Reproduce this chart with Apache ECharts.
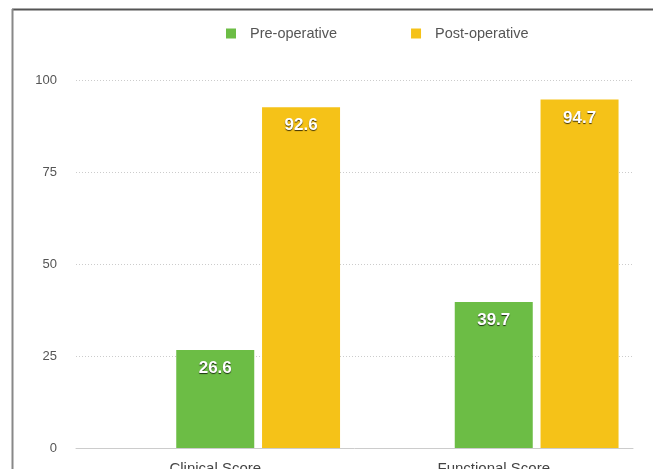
<!DOCTYPE html>
<html>
<head>
<meta charset="utf-8">
<script src="https://cdn.jsdelivr.net/npm/echarts@6/dist/echarts.min.js"></script>
<style>html,body{margin:0;padding:0;background:#fff}#c{width:653px;height:469px}</style>
</head>
<body>
<div id="c"></div>
<script>
var categories = ['Clinical Score', 'Functional Score'];
var seriesNames = ['Pre-operative', 'Post-operative'];
var preOperative = [26.6, 39.7];
var postOperative = [92.6, 94.7];
var yTicks = [0, 25, 50, 75, 100];

var chart = echarts.init(document.getElementById('c'), null, {renderer: 'canvas'});
var labelStyle = {
  show: true, position: 'insideTop', distance: 10,
  color: '#fff', fontFamily: 'Liberation Sans, Arial, sans-serif', fontWeight: 'bold', fontSize: 17,
  textShadowColor: 'rgba(0,0,0,0.75)', textShadowBlur: 1, textShadowOffsetX: 0, textShadowOffsetY: 1,
  formatter: function (p) { return p.value.toFixed(1); }
};
chart.setOption({
  animation: false,
  backgroundColor: '#fff',
  textStyle: {fontFamily: 'Liberation Sans, Arial, sans-serif'},
  graphic: [
    {type: 'line', shape: {x1: 12, y1: 9.5, x2: 653, y2: 9.5}, style: {stroke: '#555', lineWidth: 2}},
    {type: 'line', shape: {x1: 12.5, y1: 9, x2: 12.5, y2: 469}, style: {stroke: '#888', lineWidth: 2}}
  ],
  legend: {
    data: seriesNames, top: 21, left: 221,
    itemWidth: 10, itemHeight: 10, itemGap: 74, icon: 'rect',
    textStyle: {color: '#555', fontSize: 14.5, padding: [0, 0, 0, 9]}
  },
  grid: {left: 76, right: 20, top: 80, bottom: 21, containLabel: false, outerBoundsMode: 'none'},
  xAxis: {
    type: 'category', data: categories,
    axisLine: {lineStyle: {color: '#ccc', width: 1}},
    axisTick: {show: false},
    axisLabel: {color: '#444', fontSize: 15, margin: 13}
  },
  yAxis: {
    type: 'value', min: yTicks[0], max: yTicks[yTicks.length - 1], interval: 25,
    axisLine: {show: false}, axisTick: {show: false},
    axisLabel: {color: '#555', fontSize: 13, margin: 19},
    splitLine: {lineStyle: {color: '#ccc', type: [1, 2], width: 1}}
  },
  series: [
    {name: 'hidden', type: 'bar', data: [null, null], barWidth: 78, barGap: '10%'},
    {name: seriesNames[0], type: 'bar', data: preOperative, barWidth: 78, barGap: '10%',
      itemStyle: {color: '#6CBD45'}, label: labelStyle},
    {name: seriesNames[1], type: 'bar', data: postOperative, barWidth: 78, barGap: '10%',
      itemStyle: {color: '#F5C218'}, label: labelStyle}
  ]
});
</script>
</body>
</html>
